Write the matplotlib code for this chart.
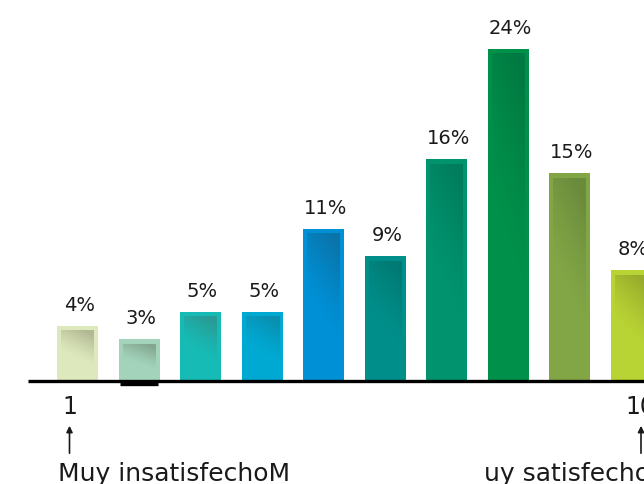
import numpy as np
import matplotlib.pyplot as plt
from matplotlib.colors import to_rgb

# data
scores = [1, 2, 3, 4, 5, 6, 7, 8, 9, 10]
pct = [4, 3, 5, 5, 11, 9, 16, 24, 15, 8]
labels = ["4%", "3%", "5%", "5%", "11%", "9%", "16%", "24%", "15%", "8%"]
base_colors = ["#dde9bd", "#a3d4bb", "#17bbb5", "#00a9d2", "#0090d5",
               "#008e8a", "#00936e", "#00904a", "#82a545", "#b8d334"]
dark_colors = ["#b3b894", "#84a690", "#2a9a95", "#0a8fb0", "#0a74aa",
               "#007a73", "#007d5c", "#007a42", "#6a8a3c", "#98ab2c"]

W, H = 644, 484
px_x = 61.5          # pixels per category
px_y = 13.85         # pixels per percent
x0_px = 77.5         # centre of first bar
base_px = 381        # baseline from top

fig = plt.figure(figsize=(W / 100, H / 100), dpi=100)
ax = fig.add_axes([0, 0, 1, 1])
ax.set_xlim(1 - x0_px / px_x, 1 + (W - x0_px) / px_x)
ax.set_ylim(-(H - base_px) / px_y, base_px / px_y)
ax.axis("off")

bw = 41 / px_x
fnt = "DejaVu Sans"

bars = ax.bar(scores, pct, width=bw, color=base_colors, zorder=2)

# inner gradient (darker towards the top right)
gy, gx = np.mgrid[0:1:100j, 0:1:50j]
for b, dc in zip(bars, dark_colors):
    x, w, h = b.get_x(), b.get_width(), b.get_height()
    ix = x + 4 / px_x
    iw = w - 8 / px_x
    itop = h - 5 / px_y
    alpha = np.clip(gy * 1.6 + gx * 0.5 - 0.95, 0, 1) ** 1.3
    img = np.zeros((100, 50, 4))
    img[..., :3] = to_rgb(dc)
    img[..., 3] = alpha
    ax.imshow(img, extent=(ix, ix + iw, 0, itop), origin="lower",
              aspect="auto", interpolation="bilinear", zorder=3)

for s, v, t in zip(scores, pct, labels):
    ax.text(s + 2 / px_x, v + 11 / px_y, t, ha="center", va="bottom",
            fontsize=14, family=fnt, color="#1a1a1a")

# baseline
ax.plot([1 - (x0_px - 28) / px_x, 11], [0, 0], color="black", lw=2.4,
        solid_capstyle="butt", zorder=4)
ax.plot([2 - 19 / px_x, 2 + 19 / px_x], [-2.5 / px_y, -2.5 / px_y],
        color="black", lw=2.4, solid_capstyle="butt", zorder=4)

# end labels and arrows
ax.text(1 - 8 / px_x, -26 / px_y, "1", ha="center", va="center",
        fontsize=17, family=fnt, color="#1a1a1a")
ax.text(10 - 6 / px_x, -26 / px_y, "10", ha="left", va="center",
        fontsize=17, family=fnt, color="#1a1a1a")
for xa in [1 - 8 / px_x, 10 + 10 / px_x]:
    ax.annotate("", xy=(xa, -42 / px_y), xytext=(xa, -75 / px_y),
                arrowprops=dict(arrowstyle="-|>", color="#1a1a1a", lw=1.2,
                                mutation_scale=9))
ax.text(1 - 20 / px_x, -93 / px_y, "Muy insatisfechoM", ha="left",
        va="center", fontsize=18, family=fnt, color="#1a1a1a")
ax.text(9 - 86 / px_x, -93 / px_y, "uy satisfecho", ha="left",
        va="center", fontsize=18, family=fnt, color="#1a1a1a")

fig.savefig("out.png", dpi=100)
